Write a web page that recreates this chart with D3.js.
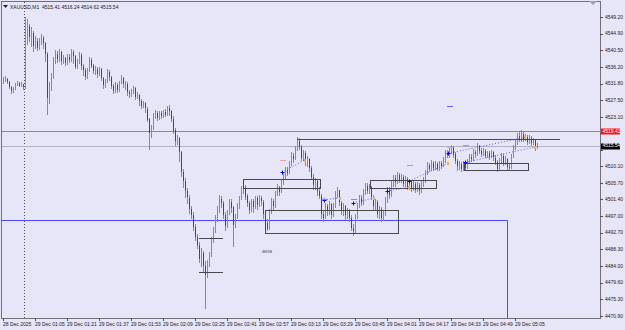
<!DOCTYPE html>
<html>
<head>
<meta charset="utf-8">
<script src="https://cdn.jsdelivr.net/npm/d3@7"></script>
<style>
  body { margin: 0; background: #e6e6f8; }
  svg text { font-family: "Liberation Sans", Arial, sans-serif; }
</style>
</head>
<body>
<div id="chart"></div>
<script>
// chart size
var w = 625;
var h = 330;
var axisX = 600;     // right price axis line
var bottomY = 318;   // time axis line

// M1 bars (open of each bar = close of the bar before)
var firstOpen = 4532.2;
var closes = [4532.6,4533.0,4532.1,4530.9,4529.9,4530.5,4531.6,4532.0,4531.3,4531.6,4530.7,
  4543.5,4546.8,4544.0,4545.2,4541.8,4543.0,4541.2,4542.6,4543.8,4542.4,
  4539.6,4528.0,4530.4,4533.8,4537.9,4539.6,4538.2,4540.0,4537.6,4538.4,
  4537.1,4538.9,4538.0,4540.1,4539.0,4536.2,4537.5,4539.4,4536.4,4535.4,
  4533.6,4535.2,4538.1,4536.6,4535.0,4535.7,4534.4,4535.6,4533.2,4531.4,
  4532.3,4534.8,4533.5,4531.2,4529.9,4531.4,4530.0,4532.1,4533.2,4531.6,
  4531.8,4529.6,4529.0,4529.9,4530.6,4528.3,4528.9,4527.2,4525.9,4526.6,
  4525.2,4522.4,4518.6,4520.2,4523.4,4524.1,4522.8,4524.0,4523.2,4524.4,
  4523.6,4525.3,4524.6,4522.6,4519.5,4516.6,4517.4,4513.8,4508.6,4506.3,
  4503.6,4501.9,4499.0,4497.4,4494.2,4491.6,4489.5,4485.8,4487.4,4484.0,
  4481.6,4484.5,4486.9,4490.8,4493.4,4496.3,4498.7,4501.6,4500.6,4497.4,
  4494.5,4497.8,4500.8,4499.3,4494.6,4496.8,4499.6,4501.7,4503.4,4504.8,
  4502.2,4500.4,4498.6,4500.9,4499.2,4501.8,4499.9,4501.7,4500.8,4497.6,
  4495.2,4493.6,4498.2,4500.9,4499.6,4502.8,4504.6,4503.4,4505.8,4507.6,
  4509.2,4508.4,4510.9,4512.8,4511.9,4514.6,4516.8,4515.2,4512.4,4513.6,
  4511.2,4512.0,4509.6,4507.2,4505.0,4506.2,4503.6,4502.4,4497.6,4496.6,
  4499.6,4498.2,4500.2,4497.3,4499.8,4502.9,4503.8,4500.6,4498.4,4499.6,
  4497.2,4498.4,4496.6,4494.0,4493.2,4496.8,4499.8,4501.9,4500.6,4503.4,
  4505.0,4503.6,4504.6,4502.0,4499.6,4500.8,4497.6,4498.9,4496.6,4497.8,
  4501.2,4503.8,4502.6,4505.4,4507.1,4506.0,4507.8,4506.4,4507.2,4505.4,
  4506.8,4504.8,4505.9,4504.2,4505.5,4503.9,4505.2,4503.6,4505.6,4506.4,
  4508.4,4510.4,4509.4,4511.0,4509.8,4510.8,4509.6,4510.9,4510.2,4511.8,
  4513.6,4513.0,4514.4,4515.0,4513.2,4511.4,4510.0,4510.8,4509.6,4510.8,
  4509.8,4511.4,4512.6,4512.0,4513.8,4513.2,4515.4,4514.2,4513.4,4514.2,
  4512.8,4513.6,4512.6,4513.8,4512.4,4511.2,4509.4,4511.6,4512.8,4511.0,
  4512.0,4510.0,4509.8,4512.6,4515.0,4516.2,4518.0,4517.2,4518.6,4517.4,
  4517.8,4516.6,4517.6,4516.2,4516.9,4515.41,4515.54];
var highs = [4533.6,4533.9,4533.3,4532.4,4531.2,4531.0,4532.0,4532.6,4532.3,4532.1,4531.8,
  4549.2,4548.8,4547.5,4546.6,4545.6,4544.2,4543.8,4543.7,4544.9,4544.3,
  4542.8,4540.0,4532.2,4534.6,4538.8,4540.6,4540.4,4540.9,4540.3,4539.3,
  4538.9,4539.5,4539.6,4540.8,4540.6,4539.3,4538.2,4540.2,4539.8,4537.0,
  4536.0,4535.8,4538.7,4538.6,4537.0,4536.4,4536.1,4536.2,4535.9,4533.6,
  4533.0,4535.6,4535.3,4533.9,4531.8,4532.3,4531.9,4532.6,4534.0,4533.6,
  4532.5,4532.2,4530.2,4530.5,4531.2,4530.9,4529.6,4529.2,4527.8,4527.2,
  4527.0,4525.6,4522.8,4521.0,4524.1,4525.0,4524.6,4524.7,4524.6,4524.9,
  4525.2,4526.0,4526.2,4525.0,4523.2,4520.2,4518.4,4517.8,4514.2,4509.4,
  4507.0,4504.4,4502.6,4499.8,4498.0,4495.0,4492.3,4490.2,4488.6,4487.8,
  4485.3,4485.4,4487.6,4491.5,4494.2,4497.2,4499.8,4502.7,4502.2,4501.0,
  4498.0,4498.6,4501.6,4501.4,4499.8,4497.6,4500.4,4502.4,4505.0,4505.8,
  4505.2,4502.8,4501.0,4501.6,4501.4,4502.4,4502.2,4502.6,4502.2,4501.2,
  4498.3,4496.2,4499.0,4501.8,4501.6,4503.5,4505.4,4505.0,4506.6,4508.4,
  4510.0,4509.8,4511.6,4513.8,4513.6,4515.4,4517.8,4517.4,4515.8,4514.4,
  4514.0,4512.9,4512.4,4510.2,4508.0,4507.0,4506.8,4504.8,4502.8,4498.6,
  4500.4,4500.2,4501.0,4500.6,4500.6,4503.6,4504.8,4504.0,4501.0,4500.4,
  4500.0,4499.2,4498.8,4497.2,4495.0,4497.6,4500.6,4502.6,4502.6,4504.2,
  4505.8,4505.6,4505.4,4505.0,4502.6,4501.6,4501.2,4499.6,4499.4,4498.6,
  4502.0,4504.6,4504.6,4506.2,4507.9,4507.8,4508.6,4508.4,4508.0,4507.8,
  4507.6,4507.4,4506.6,4506.4,4506.2,4506.0,4506.0,4505.8,4506.2,4507.2,
  4509.2,4511.2,4511.0,4511.8,4511.6,4511.4,4511.2,4511.6,4511.4,4512.6,
  4514.4,4514.4,4515.2,4515.6,4515.4,4513.8,4512.0,4511.6,4511.2,4511.6,
  4511.4,4512.0,4513.4,4513.4,4514.6,4514.4,4516.2,4515.8,4514.8,4514.8,
  4514.6,4514.2,4514.0,4514.4,4514.2,4513.0,4511.8,4512.4,4513.6,4513.4,
  4512.8,4512.4,4510.8,4513.4,4515.8,4517.0,4518.8,4519.2,4519.6,4519.0,
  4518.6,4518.4,4518.4,4518.0,4517.6,4517.2,4516.24];
var lows = [4531.8,4532.3,4531.6,4530.3,4529.2,4529.4,4530.2,4531.2,4530.8,4530.9,4530.2,
  4530.5,4542.0,4542.8,4541.5,4540.2,4540.8,4540.4,4540.6,4541.9,4541.0,
  4537.5,4523.6,4526.5,4529.8,4533.0,4537.0,4537.3,4537.6,4536.8,4536.9,
  4536.3,4536.8,4537.2,4537.5,4536.9,4535.6,4535.6,4537.0,4535.4,4533.9,
  4532.8,4532.9,4534.8,4535.8,4534.2,4534.0,4533.4,4533.9,4532.6,4530.3,
  4530.6,4532.0,4532.6,4530.5,4529.1,4529.3,4529.3,4529.7,4531.6,4530.7,
  4530.2,4528.6,4527.9,4528.4,4529.2,4527.6,4527.7,4526.0,4525.1,4525.3,
  4524.2,4521.7,4514.5,4517.6,4519.6,4522.4,4522.1,4522.3,4522.6,4522.8,
  4523.0,4523.2,4523.4,4521.8,4518.6,4515.4,4515.8,4511.3,4507.4,4504.4,
  4501.8,4500.1,4497.6,4496.2,4493.0,4490.4,4488.3,4484.7,4483.8,4482.4,
  4472.6,4480.8,4483.6,4486.2,4490.0,4492.6,4495.6,4497.9,4499.2,4496.4,
  4493.2,4494.0,4497.2,4497.8,4489.0,4493.8,4496.2,4499.0,4501.2,4502.9,
  4501.3,4499.5,4497.5,4498.0,4497.8,4498.8,4498.6,4499.4,4499.6,4496.4,
  4494.2,4493.0,4493.4,4497.6,4498.5,4499.2,4502.2,4502.4,4503.0,4505.2,
  4506.8,4507.6,4508.0,4510.2,4511.0,4511.8,4514.0,4514.4,4511.6,4511.4,
  4510.2,4509.8,4508.7,4506.4,4504.0,4503.8,4502.4,4501.4,4496.2,4495.6,
  4496.2,4497.0,4497.4,4496.4,4496.8,4499.2,4501.8,4499.6,4497.2,4497.0,
  4496.0,4496.4,4495.6,4493.0,4491.8,4492.6,4496.2,4499.2,4499.6,4500.0,
  4502.6,4502.8,4502.8,4501.2,4498.6,4498.6,4496.6,4496.4,4495.4,4495.8,
  4497.0,4500.4,4501.6,4502.0,4504.6,4504.8,4505.4,4505.6,4505.6,4504.6,
  4504.8,4504.0,4503.8,4503.4,4503.6,4503.0,4503.4,4502.6,4503.0,4504.8,
  4505.8,4507.8,4508.6,4508.8,4509.0,4509.2,4508.8,4509.0,4509.4,4509.8,
  4511.0,4512.2,4512.4,4513.4,4512.4,4510.6,4509.0,4509.2,4508.6,4509.0,
  4509.0,4509.4,4510.8,4511.2,4511.6,4512.4,4512.8,4513.2,4512.6,4512.8,
  4512.2,4512.2,4511.8,4512.2,4511.6,4510.4,4508.6,4509.0,4511.0,4510.2,
  4510.4,4509.2,4508.8,4509.4,4512.2,4514.4,4515.6,4516.4,4516.6,4516.6,
  4516.8,4515.8,4516.0,4515.4,4515.6,4514.0,4514.62];

// axes
var priceTicks = [4549.20,4544.90,4540.50,4536.20,4531.80,4527.50,4523.10,4518.80,4514.40,4510.10,
  4505.70,4501.40,4497.00,4492.70,4488.30,4484.00,4479.60,4475.30,4470.90];
var timeTickBars = [0,16,32,48,64,80,96,112,128,144,160,176,192,208,224,240,256];
var timeTickLabels = ["28 Dec 2025","29 Dec 01:05","29 Dec 01:21","29 Dec 01:37","29 Dec 01:53",
  "29 Dec 02:09","29 Dec 02:25","29 Dec 02:41","29 Dec 02:57","29 Dec 03:13","29 Dec 03:29",
  "29 Dec 03:45","29 Dec 04:01","29 Dec 04:17","29 Dec 04:33","29 Dec 04:49","29 Dec 05:05"];
var daySeparatorBar = 10.5;

// price lines
var alertPrice = 4519.41;
var bidPrice = 4515.54;
var bluePrice = 4496.0;
var blueEndBar = 252;
var titleText = "XAUUSD,M1  4515.41 4516.24 4514.62 4515.54";

// drawn objects: [barFrom, barTo, priceTop, priceBottom]
var boxes = [
  [120, 158.5, 4506.8, 4504.4],
  [131, 197.5, 4498.6, 4492.6],
  [183.5, 216.5, 4506.5, 4504.4],
  [230.5, 262.5, 4511.0, 4509.1]
];
// horizontal levels: [barFrom, barTo, price]
var levels = [[98, 110, 4491.3], [98, 110, 4482.4], [147, 278.5, 4517.3]];
// dotted trend lines: [bar1, price1, bar2, price2]
var trends = [
  [139.5, 4508.6, 151, 4511.8],
  [160.5, 4501.3, 168.5, 4501.8],
  [175, 4500.5, 185.5, 4501.8],
  [192, 4503.6, 203, 4504.6],
  [203, 4506.2, 222.5, 4510.9],
  [222.5, 4513.5, 261, 4517.7],
  [231, 4511.1, 266, 4515.2]
];
// small dashes: [bar, price, colour]
var dashes = [[140, 4511.8, "#f0a0b0"], [161, 4501.6, "#e07070"], [175.5, 4501.6, "#e07070"],
  [203.5, 4510.4, "#f08080"], [223.5, 4515.2, "#f0a0b0"], [231.5, 4515.7, "#f08080"],
  [223.5, 4525.9, "#6060ff"]];

var xScale = d3.scaleLinear().domain([0, 267]).range([3, 537]);
var yScale = d3.scaleLinear().domain([4470.9, 4549.2]).range([315.7, 17.3]);

var bars = closes.map(function(c, i) {
  return { i: i, o: i == 0 ? firstOpen : closes[i - 1], h: highs[i], l: lows[i], c: c };
});

var svg = d3.select("#chart").append("svg")
  .attr("width", w).attr("height", h)
  .style("display", "block");

svg.append("rect").attr("width", w).attr("height", h).attr("fill", "#e6e6f8");

// frame
svg.append("path")
  .attr("d", "M1.5,1.5H" + (axisX + 0.5) + "V" + (bottomY + 0.5) + "H1.5Z")
  .attr("fill", "none").attr("stroke", "#707078").attr("shape-rendering", "crispEdges");

// day separator
svg.append("line")
  .attr("x1", Math.round(xScale(daySeparatorBar)) + 0.5).attr("x2", Math.round(xScale(daySeparatorBar)) + 0.5)
  .attr("y1", 2).attr("y2", bottomY)
  .attr("stroke", "#505058").attr("stroke-dasharray", "1,2");

// horizontal price lines
svg.append("rect").attr("x", 2).attr("width", axisX - 2)
  .attr("y", Math.round(yScale(alertPrice))).attr("height", 1)
  .attr("fill", "#f05a6a");
svg.append("rect").attr("x", 2).attr("width", axisX - 2)
  .attr("y", Math.round(yScale(bidPrice))).attr("height", 1)
  .attr("fill", "#b0b0c4");

// blue level line with drop to the bottom
var by = Math.round(yScale(bluePrice)) + 0.5;
var bx = Math.round(xScale(blueEndBar)) + 0.5;
svg.append("path")
  .attr("d", "M2," + by + "H" + bx + "V" + bottomY)
  .attr("fill", "none").attr("stroke", "#4848ff");

// candles: one rect for the wick, one for the body
var g = svg.append("g");
g.selectAll("rect.wick")
  .data(bars).enter().append("rect")
  .attr("class", "wick")
  .attr("x", function(d) { return Math.round(xScale(d.i)); })
  .attr("width", 1)
  .attr("y", function(d) { return Math.round(yScale(d.h)); })
  .attr("height", function(d) { return Math.max(1, Math.round(yScale(d.l)) - Math.round(yScale(d.h))); })
  .style("fill", "#55b055");
g.selectAll("rect.body")
  .data(bars).enter().append("rect")
  .attr("class", "body")
  .attr("x", function(d) { return Math.round(xScale(d.i)); })
  .attr("width", 1)
  .attr("y", function(d) { return Math.round(yScale(Math.max(d.o, d.c))); })
  .attr("height", function(d) { return Math.max(1, Math.round(Math.abs(yScale(d.o) - yScale(d.c)))); })
  .style("fill", function(d) { return d.c >= d.o ? "#55b055" : "#127012"; });

// boxes
svg.selectAll("rect.box")
  .data(boxes).enter().append("rect")
  .attr("class", "box")
  .attr("x", function(d) { return Math.round(xScale(d[0])) + 0.5; })
  .attr("y", function(d) { return Math.round(yScale(d[2])) + 0.5; })
  .attr("width", function(d) { return Math.round(xScale(d[1]) - xScale(d[0])); })
  .attr("height", function(d) { return Math.round(yScale(d[3]) - yScale(d[2])); })
  .attr("fill", "none").attr("stroke", "#48484e");

svg.selectAll("line.level")
  .data(levels).enter().append("line")
  .attr("class", "level")
  .attr("x1", function(d) { return xScale(d[0]); })
  .attr("x2", function(d) { return xScale(d[1]); })
  .attr("y1", function(d) { return Math.round(yScale(d[2])) + 0.5; })
  .attr("y2", function(d) { return Math.round(yScale(d[2])) + 0.5; })
  .attr("stroke", "#48484e");

// trend lines and markers
svg.selectAll("line.trend")
  .data(trends).enter().append("line")
  .attr("class", "trend")
  .attr("x1", function(d) { return xScale(d[0]); })
  .attr("y1", function(d) { return yScale(d[1]); })
  .attr("x2", function(d) { return xScale(d[2]); })
  .attr("y2", function(d) { return yScale(d[3]); })
  .attr("stroke", "#5a5aff").attr("stroke-dasharray", "1,2");

svg.selectAll("path.plus")
  .data(trends).enter().append("path")
  .attr("class", "plus")
  .attr("d", function(d) {
    var x = Math.round(xScale(d[0])) + 0.5, y = Math.round(yScale(d[1])) + 0.5;
    return "M" + (x - 2) + "," + y + "H" + (x + 2) + "M" + x + "," + (y - 2) + "V" + (y + 2);
  })
  .attr("stroke", "#0000ff");

svg.selectAll("rect.endmark")
  .data(trends).enter().append("rect")
  .attr("class", "endmark")
  .attr("x", function(d) { return Math.round(xScale(d[2])) - 1; })
  .attr("y", function(d) { return Math.round(yScale(d[3])) - 1; })
  .attr("width", 2).attr("height", 3)
  .attr("fill", "#e8b040");

svg.selectAll("line.dash")
  .data(dashes).enter().append("line")
  .attr("class", "dash")
  .attr("x1", function(d) { return xScale(d[0]) - 3; })
  .attr("x2", function(d) { return xScale(d[0]) + 3; })
  .attr("y1", function(d) { return Math.round(yScale(d[1])) + 0.5; })
  .attr("y2", function(d) { return Math.round(yScale(d[1])) + 0.5; })
  .attr("stroke", function(d) { return d[2]; });

// session label
svg.append("text")
  .attr("x", xScale(129.5)).attr("y", yScale(4487.4))
  .attr("font-size", "5.5px").attr("fill", "#606068")
  .text("asia");

// price axis (labels under the price tags stay hidden)
var tagPrices = [alertPrice, bidPrice];
var pa = svg.append("g");
pa.selectAll("line")
  .data(priceTicks).enter().append("line")
  .attr("x1", axisX).attr("x2", axisX + 3)
  .attr("y1", function(d) { return Math.round(yScale(d)) + 0.5; })
  .attr("y2", function(d) { return Math.round(yScale(d)) + 0.5; })
  .attr("stroke", "#505058");
pa.selectAll("text")
  .data(priceTicks.filter(function(p) {
    return tagPrices.every(function(t) { return Math.abs(yScale(p) - yScale(t)) > 6; });
  }))
  .enter().append("text")
  .attr("x", axisX + 5)
  .attr("y", function(d) { return yScale(d) + 1.8; })
  .attr("font-size", "5px").attr("fill", "#202028")
  .text(function(d) { return d3.format(".2f")(d); });

// time axis
var ta = svg.append("g");
ta.selectAll("line")
  .data(timeTickBars).enter().append("line")
  .attr("x1", function(d) { return Math.round(xScale(d)) + 0.5; })
  .attr("x2", function(d) { return Math.round(xScale(d)) + 0.5; })
  .attr("y1", bottomY).attr("y2", bottomY + 3)
  .attr("stroke", "#505058");
ta.selectAll("text")
  .data(timeTickBars).enter().append("text")
  .attr("x", function(d) { return xScale(d); })
  .attr("y", bottomY + 7.5)
  .attr("font-size", "5px").attr("fill", "#202028")
  .text(function(d, i) { return timeTickLabels[i]; });

// price tags
function priceTag(p, bg) {
  var y = yScale(p);
  svg.append("rect").attr("x", axisX + 1).attr("y", Math.round(y) - 2.5)
    .attr("width", 19).attr("height", 6).attr("fill", bg);
  svg.append("text").attr("x", axisX + 2.5).attr("y", y + 1.8)
    .attr("font-size", "5px").attr("fill", "#ffffff")
    .text(d3.format(".2f")(p));
}
priceTag(alertPrice, "#ff1010");
priceTag(bidPrice, "#000000");

// title
svg.append("path").attr("d", "M3,5H8L5.5,8Z").attr("fill", "#202028");
svg.append("text").attr("x", 10).attr("y", 8.5)
  .attr("font-size", "5px").attr("fill", "#202028")
  .attr("xml:space", "preserve").style("white-space", "pre")
  .text(titleText);

// one-click panel arrow
svg.append("path").attr("d", "M589,1H597L593,5Z").attr("fill", "#a0a0a8");
</script>
</body>
</html>
